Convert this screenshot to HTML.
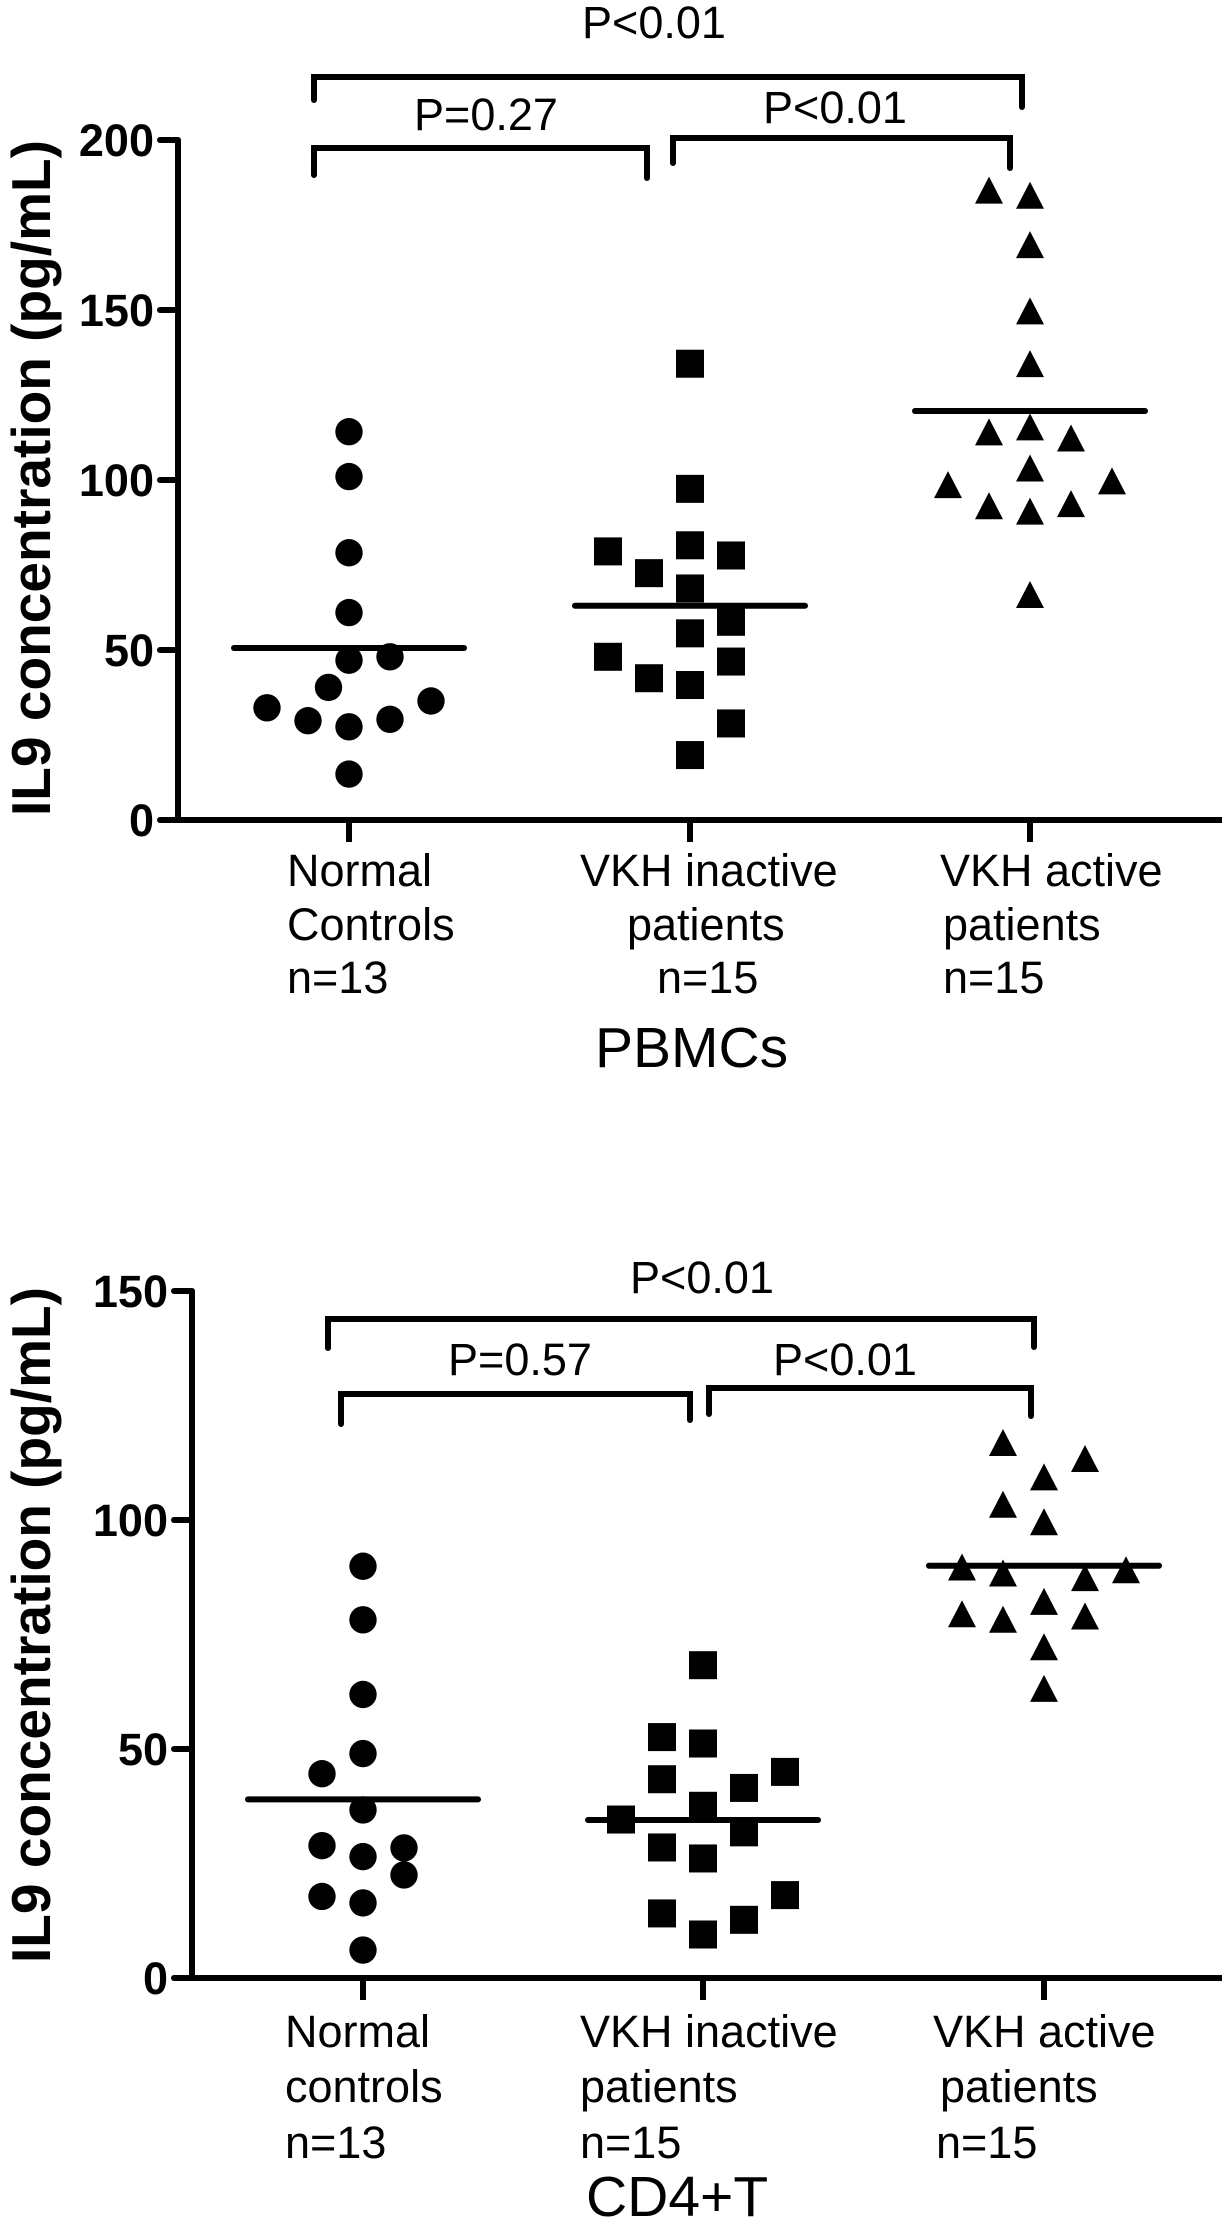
<!DOCTYPE html>
<html><head><meta charset="utf-8">
<style>
html,body{margin:0;padding:0;background:#fff;}
svg{display:block;}
text{font-family:"Liberation Sans",Arial,sans-serif;fill:#000;}
</style></head>
<body>
<svg id="fig" width="1224" height="2219" viewBox="0 0 1224 2219" xmlns="http://www.w3.org/2000/svg">
  <g id="top"></g>
  <g id="bottom"></g>
</svg>
<script>
// ---- data: PBMCs panel ----
const topCategories = ["Normal Controls", "VKH inactive patients", "VKH active patients"];
const topTicks = [0, 50, 100, 150, 200];
const topNormal = [114.2, 101, 78.6, 61, 47, 48, 39, 33, 29.2, 27.4, 29.6, 35, 13.5];
const topInactive = [134.2, 97.4, 79, 72.6, 80.8, 77.8, 68.1, 58.3, 54.9, 48, 46.6, 41.7, 39.7, 28.4, 19.1];
const topActive = [184.8, 183.3, 168.8, 149.3, 133.8, 113.7, 115.2, 111.9, 103.1, 98.2, 99.3, 92, 90.4, 92.6, 65.9];
const topMeans = [50.6, 63, 120.3];
const topPLabels = ["P<0.01", "P=0.27", "P<0.01"];
// ---- data: CD4+T panel ----
const botCategories = ["Normal controls", "VKH inactive patients", "VKH active patients"];
const botTicks = [0, 50, 100, 150];
const botNormal = [89.9, 78.2, 61.9, 49, 44.6, 36.7, 28.9, 28.4, 26.5, 22.5, 17.8, 16.4, 6.1];
const botInactive = [68.3, 52.6, 51.2, 43.4, 45, 41.5, 37.6, 34.6, 31.8, 28.5, 26.1, 18.1, 14.1, 12.7, 9.5];
const botActive = [116.6, 113.1, 109.1, 103.1, 99.3, 89.4, 88.1, 87.1, 88.8, 81.9, 79.2, 78, 78.7, 72, 62.9];
const botMeans = [39, 34.5, 90];
const botPLabels = ["P<0.01", "P=0.57", "P<0.01"];

// ---- layout (scatter column offsets, not data) ----
const topNormalCols = [0,0,0,0,0,1,-0.5,-2,-1,0,1,2,0];
const topInactiveCols = [0,0,-2,-1,0,1,0,1,0,-2,1,-1,0,1,0];
const topActiveCols = [-1,0,0,0,0,-1,0,1,0,-2,2,-1,0,1,0];
const botNormalCols = [0,0,0,0,-1,0,-1,1,0,1,-1,0,0];
const botInactiveCols = [0,-1,0,-1,2,1,0,-2,1,-1,0,2,-1,1,0];
const botActiveCols = [-1,1,0,-1,0,-2,-1,1,2,0,-2,-1,1,0,0];

const NS = "http://www.w3.org/2000/svg";
function mk(parent, tag, attrs, txt){
  const e = document.createElementNS(NS, tag);
  for (const k in attrs) e.setAttribute(k, attrs[k]);
  if (txt !== undefined) e.textContent = txt;
  parent.appendChild(e);
  return e;
}

function drawPanel(cfg){
  const g = document.getElementById(cfg.id);
  const y = v => cfg.y0 - v * cfg.k;
  let ax = mk(g, "line", {x1: cfg.ax, y1: y(cfg.ticks[cfg.ticks.length-1]), x2: cfg.ax, y2: y(0), stroke: "#000", "stroke-width": 6});
  
  
  let xa = mk(g, "line", {x1: cfg.ax - 3, y1: y(0), x2: 1222, y2: y(0), stroke: "#000", "stroke-width": 6});
  
  
  cfg.ticks.forEach(t => {
    const tk = mk(g, "line", {x1: cfg.ax - 18, y1: y(t), x2: cfg.ax, y2: y(t), stroke: "#000", "stroke-width": 6, "stroke-linecap": "round"});
    
    
    const tl = mk(g, "text", {x: cfg.ax - 24, y: y(t) + 16, "text-anchor": "end", "font-size": 45, "font-weight": "bold"}, String(t));
    
    
  });
  const ty = mk(g, "text", {x: 0, y: 0, transform: `translate(50,${cfg.titleCy}) rotate(-90)`, "text-anchor": "middle", "font-size": 55, "font-weight": "bold", textLength: 676, lengthAdjust: "spacingAndGlyphs"}, "IL9 concentration (pg/mL)");
  
  
  cfg.centers.forEach(cx => {
    const tk = mk(g, "line", {x1: cx, y1: y(0), x2: cx, y2: y(0) + 22, stroke: "#000", "stroke-width": 6});
    
    
  });
  const groups = [[cfg.normal, cfg.normalCols, "circle"], [cfg.inactive, cfg.inactiveCols, "square"], [cfg.active, cfg.activeCols, "triangle"]];
  groups.forEach((gr, gi) => {
    const [vals, cols, shape] = gr;
    const cx0 = cfg.centers[gi];
    vals.forEach((v, i) => {
      const cx = cx0 + (cols[i] || 0) * cfg.step, cy = y(v);
      let m;
      if (shape === "circle") m = mk(g, "circle", {cx: cx, cy: cy, r: 13.7, fill: "#000"});
      else if (shape === "square") m = mk(g, "rect", {x: cx - 14, y: cy - 14, width: 28, height: 28, fill: "#000"});
      else m = mk(g, "polygon", {points: `${cx},${cy-15} ${cx-14},${cy+12} ${cx+14},${cy+12}`, fill: "#000"});
      
      
    });
    const ml = mk(g, "line", {x1: cx0 - 115, y1: y(cfg.means[gi]), x2: cx0 + 115, y2: y(cfg.means[gi]), stroke: "#000", "stroke-width": 6, "stroke-linecap": "round"});
    
    
  });
  cfg.brackets.forEach((b, i) => {
    const p = mk(g, "path", {d: `M${b.x1},${b.yl} V${b.y} H${b.x2} V${b.yr}`, fill: "none", stroke: "#000", "stroke-width": 6, "stroke-linecap": "round"});
    
    
    const t = mk(g, "text", {x: b.tx, y: b.ty, "text-anchor": "middle", "font-size": 45}, cfg.pLabels[i]);
    
    
  });
  cfg.catLines.forEach(l => {
    const t = mk(g, "text", {x: l[0], y: l[1], "font-size": 45}, l[2]);
    
    
  });
  const st = mk(g, "text", {x: cfg.sub[0], y: cfg.sub[1], "font-size": 57}, cfg.sub[2]);
  
  
}

drawPanel({
  id: "top", y0: 820, k: 3.4, ax: 178, ticks: topTicks, titleCy: 478,
  centers: [349, 690, 1030], step: 41,
  normal: topNormal, inactive: topInactive, active: topActive,
  normalCols: topNormalCols, inactiveCols: topInactiveCols, activeCols: topActiveCols,
  means: topMeans, pLabels: topPLabels,
  brackets: [
    {x1: 314, x2: 1022, y: 77, yl: 100, yr: 107, tx: 654, ty: 38},
    {x1: 314, x2: 647, y: 148, yl: 175, yr: 178, tx: 486, ty: 130},
    {x1: 673, x2: 1010, y: 138, yl: 163, yr: 168, tx: 835, ty: 123}
  ],
  catLines: [[287, 886, "Normal"], [287, 940, "Controls"], [287, 993, "n=13"],
             [580, 886, "VKH inactive"], [627, 940, "patients"], [657, 993, "n=15"],
             [940, 886, "VKH active"], [943, 940, "patients"], [943, 993, "n=15"]],
  sub: [595, 1067, "PBMCs"]
});

drawPanel({
  id: "bottom", y0: 1978, k: 4.58, ax: 192, ticks: botTicks, titleCy: 1625,
  centers: [363, 703, 1044], step: 41,
  normal: botNormal, inactive: botInactive, active: botActive,
  normalCols: botNormalCols, inactiveCols: botInactiveCols, activeCols: botActiveCols,
  means: botMeans, pLabels: botPLabels,
  brackets: [
    {x1: 328, x2: 1034, y: 1319, yl: 1348, yr: 1347, tx: 702, ty: 1293},
    {x1: 341, x2: 690, y: 1394, yl: 1424, yr: 1420, tx: 520, ty: 1375},
    {x1: 709, x2: 1031, y: 1388, yl: 1414, yr: 1416, tx: 845, ty: 1375}
  ],
  catLines: [[285, 2047, "Normal"], [285, 2102, "controls"], [285, 2158, "n=13"],
             [580, 2047, "VKH inactive"], [580, 2102, "patients"], [580, 2158, "n=15"],
             [933, 2047, "VKH active"], [940, 2102, "patients"], [936, 2158, "n=15"]],
  sub: [586, 2216, "CD4+T"]
});
</script>
</body></html>
